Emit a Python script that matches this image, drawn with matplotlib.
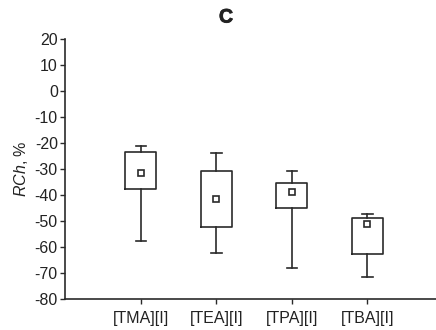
import matplotlib
matplotlib.use("Agg")
import matplotlib.pyplot as plt
import matplotlib.patheffects as pe

plt.rcParams['font.family'] = ['Liberation Sans', 'DejaVu Sans']
plt.rcParams['mathtext.fontset'] = 'custom'
plt.rcParams['mathtext.it'] = 'Liberation Sans:italic'
plt.rcParams['mathtext.rm'] = 'Liberation Sans'
plt.rcParams['axes.unicode_minus'] = False

# --- Datos ---
categorias = ["[TMA][I]", "[TEA][I]", "[TPA][I]", "[TBA][I]"]
bigote_sup = [-21.0, -23.7, -30.9, -47.4]
caja_sup   = [-23.6, -30.6, -35.5, -48.8]
media      = [-31.5, -41.4, -39.0, -51.3]
caja_inf   = [-37.6, -52.3, -44.9, -62.8]
bigote_inf = [-57.7, -62.4, -68.1, -71.4]

y_ticks = list(range(20, -81, -10))

color = "#2a2a2a"

stats = []
for i, nombre in enumerate(categorias):
    stats.append({
        "label": nombre,
        "whishi": bigote_sup[i],
        "q3": caja_sup[i],
        "mean": media[i],
        "med": media[i],
        "q1": caja_inf[i],
        "whislo": bigote_inf[i],
        "fliers": [],
    })

fig = plt.figure(figsize=(4.36, 3.30), dpi=100)
ax = fig.add_axes([0.150, 0.094, 0.850, 0.788])

ax.bxp(stats, positions=[1, 2, 3, 4], widths=0.41, showmeans=True,
       showfliers=False,
       boxprops=dict(color=color, linewidth=1.2),
       whiskerprops=dict(color=color, linewidth=1.2),
       capprops=dict(color=color, linewidth=1.2),
       medianprops=dict(linewidth=0),
       meanprops=dict(marker="s", markersize=4.5, markerfacecolor="white",
                      markeredgecolor=color, markeredgewidth=1.2),
       capwidths=0.14)

ax.set_xlim(0, 4.91)
ax.set_ylim(-80, 20)
ax.set_yticks(y_ticks)
ax.set_xticks([1, 2, 3, 4])
ax.set_xticklabels(categorias)

ax.spines["top"].set_visible(False)
ax.spines["right"].set_visible(False)
for s in ["left", "bottom"]:
    ax.spines[s].set_color(color)
    ax.spines[s].set_linewidth(1.2)
ax.tick_params(axis="both", colors=color, labelcolor="#222222", labelsize=11.5,
               length=3.5, width=1.0, direction="out")
ax.tick_params(axis="x", pad=5)
ax.tick_params(axis="y", pad=2)

ax.set_ylabel(r"$\it{RCh}$, %", fontsize=11.5, color="#222222", labelpad=3)
titulo = fig.text(226 / 436, 1 - 18 / 330, "C", ha="center", va="center",
                  fontsize=14, fontweight="bold", color="#222222")
titulo.set_path_effects([pe.withStroke(linewidth=0.6, foreground="#222222")])

fig.savefig("out.png", dpi=100)
